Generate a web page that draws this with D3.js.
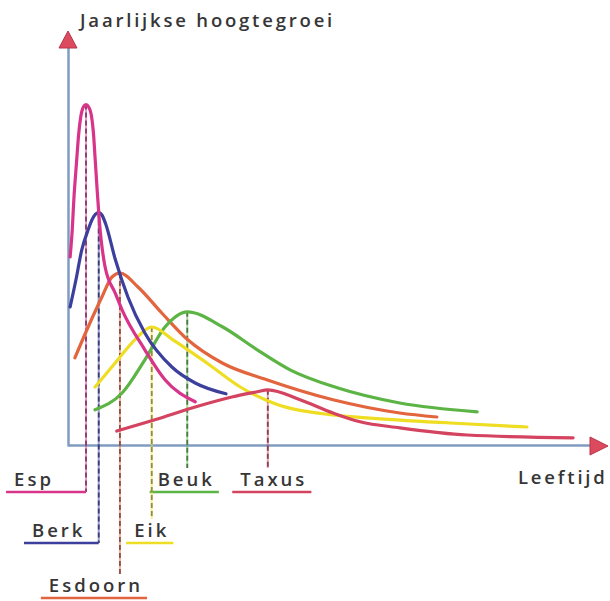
<!DOCTYPE html>
<html>
<head>
<meta charset="utf-8">
<script src="https://cdn.jsdelivr.net/npm/d3@7"></script>
<style>
  body { margin: 0; background: #fff; }
  svg text { font-family: "Open Sans", sans-serif; font-weight: 600; fill: #363636; }
</style>
</head>
<body>
<div id="chart"></div>
<script>
// growth curves: [age, yearly height growth] in relative units (0..100)
const esp = [[0.4, 46.5], [0.8, 53.3], [1.1, 60.8], [1.6, 70], [2.0, 77], [2.4, 81.5], [2.9, 84],
  [3.4, 84.6], [3.9, 84], [4.4, 82], [4.8, 77.5], [5.1, 71.5], [5.5, 63.3], [5.9, 55.8], [7, 44],
  [8.9, 37.5], [10.2, 33.3], [14.5, 23.3], [18.3, 15.8], [24, 10.3]];
const berk = [[0.4, 34], [1.5, 40.8], [2.6, 48.3], [3.8, 53.3], [4.6, 56], [5.2, 57.2], [5.8, 57.6],
  [6.4, 57], [7.1, 54.8], [8.9, 46], [11.3, 36.5], [14.5, 27.5], [19.6, 19], [24, 15], [29.8, 12.3]];
const esdoorn = [[1.3, 21.3], [3.8, 29], [6.4, 36.5], [8.3, 41.5], [9.8, 42.5], [13.2, 39],
  [17.7, 32.5], [22.6, 25.8], [29.1, 20], [37.5, 15.8], [50, 10.8], [62.6, 7.5], [69.6, 6.5]];
const eik = [[5.1, 14], [8.9, 20], [12.6, 25.8], [15.8, 29], [19.8, 25.8], [26.2, 20], [32.5, 14],
  [38.7, 10], [50, 7], [56.4, 6.3], [72.1, 5], [86.6, 4]];
const beuk = [[5.1, 8.3], [10.2, 12.5], [14.5, 20.8], [18.3, 29], [22.5, 32.8], [29.2, 29],
  [35.7, 23.3], [41.9, 18.3], [50.8, 13.8], [62.6, 10], [77.2, 7.8]];
const taxus = [[9.2, 3], [16.4, 5.8], [24, 9], [30.9, 11.5], [35.7, 12.8], [37.7, 13.3], [43.8, 10.8],
  [50, 7.5], [55.1, 5.3], [62.6, 3.8], [75.3, 2], [95.3, 1.3]];

const names = ["Esdoorn", "Beuk", "Eik", "Taxus", "Berk", "Esp"];
const curves = [esdoorn, beuk, eik, taxus, berk, esp];
const colors = ["#e2653e", "#5cb445", "#eedd22", "#d4435f", "#3c3f9c", "#d8348a"];

const titleY = "Jaarlijkse hoogtegroei";
const titleX = "Leeftijd";

// label placement: row below the axis, shift from the drop line, connected underline
const labelRow = [2, 0, 1, 0, 1, 0];
const labelShift = [-24, -1, 0, 6, -40, -52];
const labelLinked = [false, false, false, false, true, true];

const width = 610, height = 601;
const svg = d3.select("#chart").append("svg")
  .attr("width", width).attr("height", height);

const x = d3.scaleLinear().domain([0, 100]).range([68, 598]);
const y = d3.scaleLinear().domain([0, 100]).range([443, 43]);
const axisColor = "#7f9cc0";
const rowBaseline = [486, 537, 592];

// axes (no ticks, only the domain line)
svg.append("g")
  .attr("transform", `translate(0,${y(0) + 2})`)
  .call(d3.axisBottom(x).tickValues([]).tickSizeOuter(0))
  .call(g => g.select(".domain").attr("stroke", axisColor).attr("stroke-width", 2.5));
svg.append("g")
  .attr("transform", `translate(${x(0)},0)`)
  .call(d3.axisLeft(y.copy().range([y(0) + 3, 45])).tickValues([]).tickSizeOuter(0))
  .call(g => g.select(".domain").attr("stroke", axisColor).attr("stroke-width", 2.5));

// arrow heads
const arrow = (pts) => svg.append("path")
  .attr("d", "M" + pts.join("L") + "Z")
  .attr("fill", "#dc4a5e").attr("stroke", "#b8344a").attr("stroke-width", 1);
arrow([[x(0), 31], [x(0) - 9, 48], [x(0) + 9, 48]]);
arrow([[608, y(0) + 3], [590, y(0) - 6], [590, y(0) + 12]]);

svg.append("text").attr("x", 80).attr("y", 27)
  .attr("font-size", 18.5).attr("letter-spacing", 2.8).text(titleY);
svg.append("text").attr("x", 518).attr("y", 484)
  .attr("font-size", 18.5).attr("letter-spacing", 2.8).text(titleX);

const line = d3.line()
  .x(d => x(d[0])).y(d => y(d[1]))
  .curve(d3.curveMonotoneX);

// drop lines from each peak, then labels
curves.forEach((data, i) => {
  const peak = d3.greatest(data, d => d[1]);
  const px = x(peak[0]);
  const base = rowBaseline[labelRow[i]];
  const dark = d3.interpolateRgb(colors[i], "#3a3a4a")(0.5);

  const label = svg.append("text")
    .attr("x", px + labelShift[i]).attr("y", base)
    .attr("text-anchor", "middle")
    .attr("font-size", 18.5).attr("letter-spacing", 3)
    .text(names[i]);
  const w = label.node().getComputedTextLength();
  const lx0 = px + labelShift[i] - w / 2 - 8;
  const lx1 = labelLinked[i] ? px : px + labelShift[i] + w / 2 + 4;
  const ly = base + 6;
  const bottom = labelLinked[i] ? ly : base - 18;

  svg.append("line")
    .attr("x1", px).attr("x2", px).attr("y1", y(peak[1])).attr("y2", bottom)
    .attr("stroke", colors[i]).attr("stroke-opacity", 0.5).attr("stroke-width", 2);
  svg.append("line")
    .attr("x1", px).attr("x2", px).attr("y1", y(peak[1])).attr("y2", bottom)
    .attr("stroke", dark).attr("stroke-width", 1.8).attr("stroke-dasharray", "5,3");

  svg.append("line")
    .attr("x1", lx0).attr("x2", lx1).attr("y1", ly).attr("y2", ly)
    .attr("stroke", colors[i]).attr("stroke-width", 2.4);
});

svg.append("g").selectAll("path")
  .data(curves)
  .join("path")
  .attr("d", line)
  .attr("fill", "none")
  .attr("stroke", (d, i) => colors[i])
  .attr("stroke-width", 3.2)
  .attr("stroke-linecap", "round")
  .attr("stroke-linejoin", "round");
</script>
</body>
</html>
